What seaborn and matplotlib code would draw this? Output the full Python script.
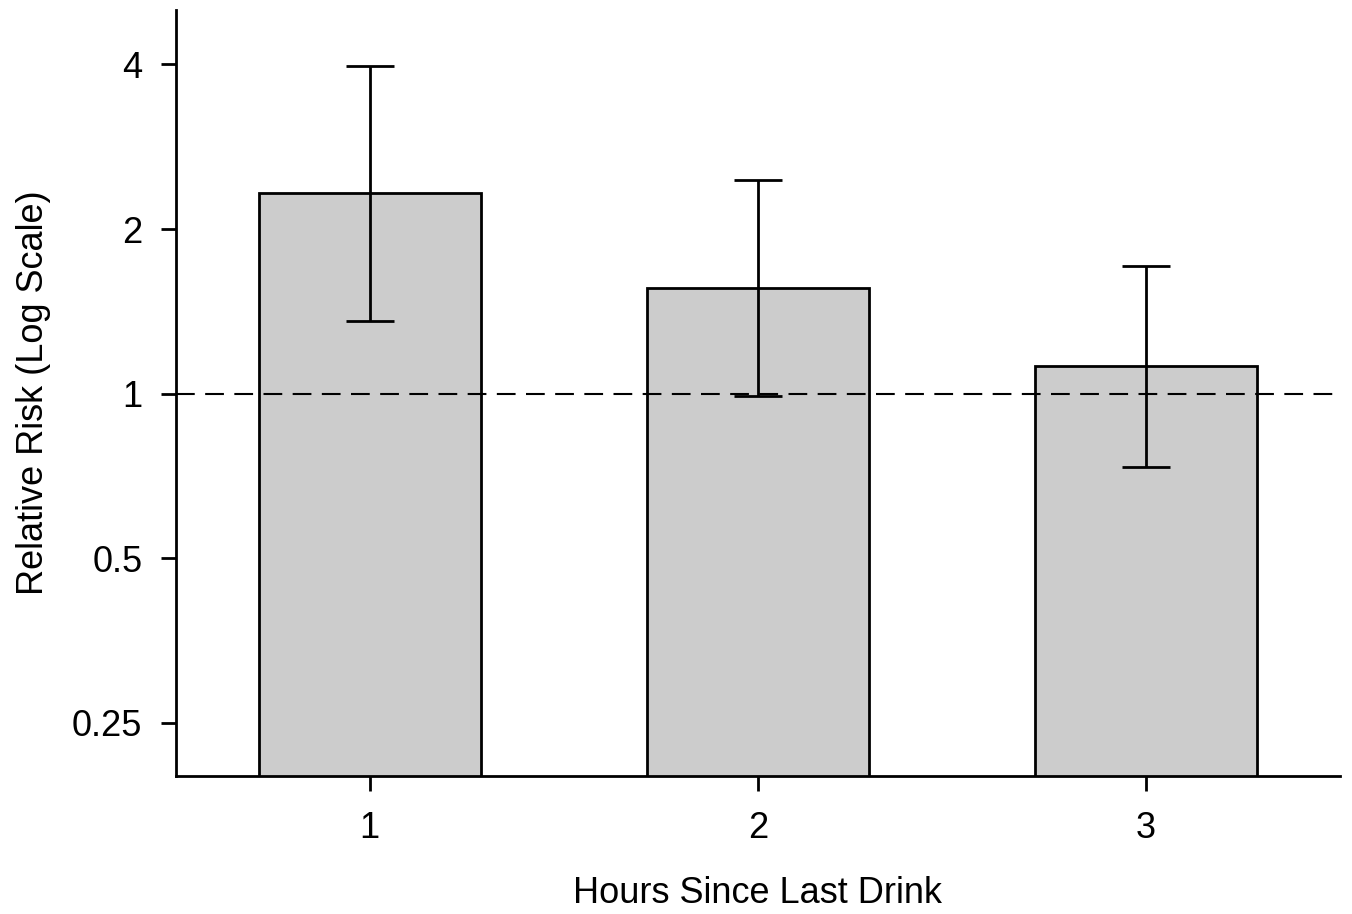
import numpy as np
import pandas as pd
import matplotlib
matplotlib.use("Agg")
import matplotlib.pyplot as plt
import seaborn as sns

# values (relative risk, log scale)
hours = ["1", "2", "3"]
risk = [2.33, 1.56, 1.125]
ci_low = [1.36, 0.99, 0.736]
ci_high = [3.97, 2.46, 1.71]

df = pd.DataFrame({"hours": hours, "risk": risk})

sns.set_style("ticks")
plt.rcParams["font.family"] = ["Liberation Sans", "DejaVu Sans"]
plt.rcParams["text.color"] = "black"
plt.rcParams["axes.labelcolor"] = "black"
plt.rcParams["xtick.color"] = "black"
plt.rcParams["ytick.color"] = "black"

fig = plt.figure(figsize=(13.52, 9.14), dpi=100)
ax = fig.add_axes([0.130, 0.151, 0.861, 0.838])
ax.set_yscale("log", base=2)

sns.barplot(x="hours", y="risk", data=df, color="#cccccc", saturation=1,
            edgecolor="black", linewidth=2, width=0.572, ax=ax, errorbar=None)

err = [np.array(risk) - np.array(ci_low), np.array(ci_high) - np.array(risk)]
ax.errorbar(range(len(hours)), risk, yerr=err, fmt="none", ecolor="black",
            elinewidth=2, capsize=17, capthick=2, zorder=5)

ax.axhline(1, color="black", lw=1.5, linestyle=(0, (9, 5)), zorder=4)

ax.set_xlim(-0.5, 2.5)
ax.set_ylim(0.2, 5.03)
ax.set_yticks([0.25, 0.5, 1, 2, 4])
ax.set_yticklabels(["0.25", "0.5", "1", "2", "4"])
ax.minorticks_off()

ax.set_xlabel("Hours Since Last Drink", fontsize=26, labelpad=22)
ax.set_ylabel("Relative Risk (Log Scale)", fontsize=26, labelpad=15)
ax.tick_params(axis="both", labelsize=26, width=2, length=11, direction="out")
ax.tick_params(axis="x", pad=14)
ax.tick_params(axis="y", pad=13)

for side in ["top", "right"]:
    ax.spines[side].set_visible(False)
for side in ["left", "bottom"]:
    ax.spines[side].set_linewidth(2)
    ax.spines[side].set_color("black")

fig.savefig("out.png", dpi=100)
